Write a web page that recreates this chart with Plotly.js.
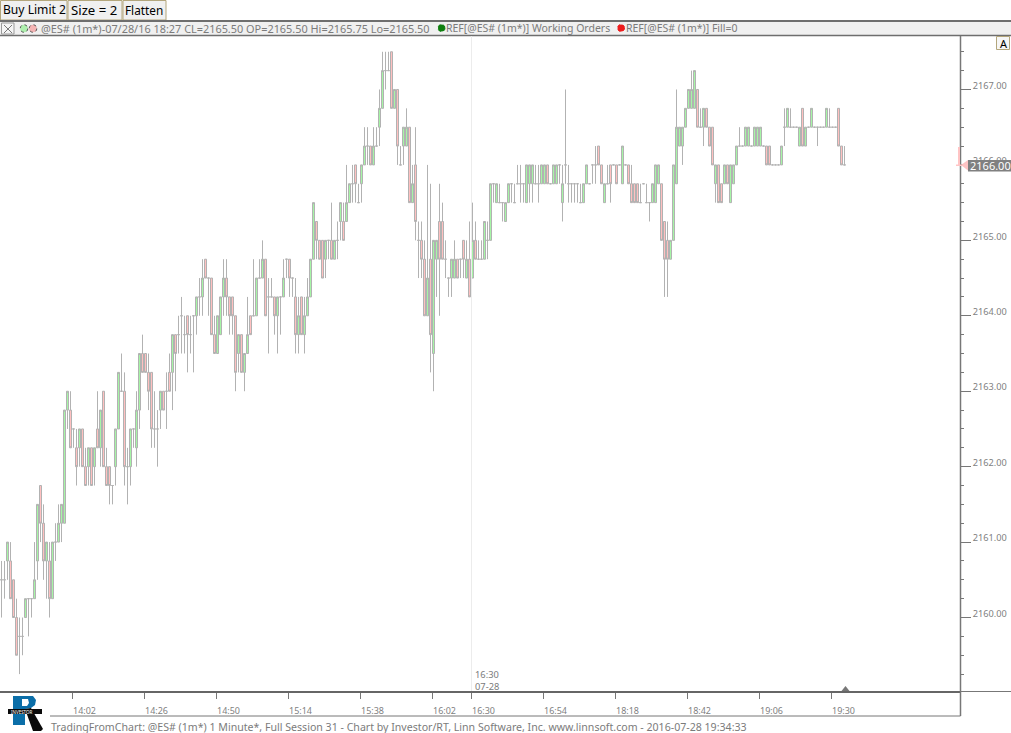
<!DOCTYPE html>
<html><head><meta charset="utf-8">
<script src="https://cdn.plot.ly/plotly-3.0.1.min.js"></script>
<style>html,body{margin:0;padding:0;background:#fff;overflow:hidden}#c{width:1011px;height:733px}</style>
</head><body><div id="c"></div>
<script>
const opens=[2160.5,2160.5,2160.75,2160.75,2160.5,2160,2159.75,2159.75,2160,2160.25,
2160.25,2160.25,2160.75,2161.75,2161.25,2160.75,2160.75,2160.25,2161,2161,
2161.25,2161.25,2162.75,2162.75,2162.5,2162.25,2162.25,2162.5,2162,2162,
2162.25,2162,2162.5,2162.25,2163,2162,2162,2161.75,2162,2162.5,
2163,2163,2162,2162,2162.5,2162.25,2162.75,2163.5,2163.5,2163.25,
2163.25,2162.5,2162.5,2162.75,2163,2163,2163.25,2163.25,2163.75,2163.75,
2164,2163.75,2164,2163.75,2164,2164,2164.25,2164.25,2164.75,2164.5,
2164.5,2163.75,2163.5,2163.75,2164.25,2164.5,2164.25,2164.25,2164,2163.5,
2163.75,2163.25,2163.5,2164,2164,2164,2164.5,2164.5,2164.75,2164.25,
2164.25,2164.25,2164,2164.25,2164.25,2164.75,2164.75,2164.5,2164.25,2163.75,
2164.25,2163.75,2164,2164.25,2164.75,2165.25,2165,2165,2164.75,2165,
2165,2164.75,2165,2165.25,2165.25,2165.25,2165.5,2165.75,2166,2165.5,
2165.75,2166,2166.25,2166.25,2166,2166.25,2166.5,2166.75,2167.25,2167.25,
2167.5,2166.75,2167,2166,2166.25,2166.25,2166.5,2165.5,2166,2165,
2165,2164.75,2164,2164.75,2163.5,2164.75,2165.25,2165.25,2164.75,2164.5,
2164.5,2164.5,2164.75,2164.75,2165,2164.5,2164.75,2164.5,2165,2164.75,
2164.75,2164.75,2165,2165,2165.75,2165.5,2165.5,2165.5,2165.25,2165.5,
2165.75,2165.5,2165.75,2165.75,2165.75,2165.5,2165.75,2165.75,2165.75,2165.75,
2165.75,2165.75,2166,2165.75,2165.75,2165.75,2166,2165.5,2166,2165.75,
2165.75,2165.75,2165.75,2165.5,2165.5,2165.75,2165.75,2166,2166,2166.25,
2166,2165.5,2165.75,2166,2166,2166,2166,2165.75,2166,2166,
2165.75,2165.75,2165.75,2165.5,2165.75,2165.5,2165.5,2165.5,2165.5,2165.75,
2165.75,2165.25,2165,2164.75,2165,2165.75,2166.25,2166.25,2166.5,2166.75,
2166.75,2166.75,2167,2166.5,2166.5,2166.75,2166.5,2166.5,2165.75,2166,
2165.75,2165.75,2166,2165.5,2165.75,2166,2166.25,2166.25,2166.25,2166.25,
2166.25,2166.25,2166.25,2166.25,2166.25,2166.25,2166.25,2166,2166,2166,
2166,2166.5,2166.5,2166.5,2166.5,2166.5,2166.25,2166.75,2166.25,2166.5,
2166.5,2166.5,2166.5,2166.5,2166.5,2166.5,2166.5,2166.5,2166.5,2166.75,2166.25,2166];
const highs=[2160.75,2160.75,2161,2161,2160.5,2160.25,2160,2160,2160.25,2160.25,
2160.25,2161,2161.5,2161.75,2161.5,2161,2161,2161,2161.25,2161.5,
2161.5,2162.75,2163,2163,2162.5,2162.5,2162.5,2162.5,2162.25,2162.25,
2162.25,2162.25,2163,2162.75,2163,2162.25,2162,2161.75,2162.5,2163.25,
2163.5,2163.25,2162.25,2162.5,2162.5,2163,2163.5,2163.75,2163.5,2163.5,
2163.25,2163,2162.75,2163,2163,2163.25,2163.5,2163.75,2163.75,2164,
2164.25,2164,2164,2164,2164,2164.25,2164.5,2164.75,2164.75,2164.5,
2164.5,2164,2164,2164.25,2164.75,2164.75,2164.25,2164.25,2164,2163.75,
2163.75,2163.5,2164.25,2164,2164.75,2164.5,2164.75,2165,2164.75,2164.5,
2164.5,2164.25,2164.25,2164.25,2164.75,2164.75,2164.75,2164.5,2164.5,2164.25,
2164.25,2164.25,2164.5,2164.75,2165.5,2165.25,2165,2165,2165,2165,
2165.5,2165,2165.25,2165.5,2165.5,2166,2165.75,2166,2166,2165.75,
2166,2166.5,2166.5,2166.25,2166.5,2166.5,2167,2167.5,2167.5,2167.5,
2167.5,2167,2167,2166.25,2166.5,2166.75,2166.5,2166,2166.5,2165.25,
2165.25,2165,2166,2165.75,2165,2165,2165.75,2165.5,2165,2164.5,
2164.75,2165,2164.75,2164.75,2165,2165,2165.25,2165.5,2165.25,2165,
2165,2165.25,2165.25,2165.75,2165.75,2165.75,2165.75,2165.5,2165.5,2165.75,
2165.75,2165.75,2166,2166,2165.75,2166,2166,2166,2166,2166,
2166,2166,2166,2165.75,2166,2166,2166,2166,2167,2166,
2165.75,2165.75,2165.75,2165.75,2165.75,2166,2165.75,2166,2166.25,2166.25,
2166,2165.75,2166,2166,2166,2166,2166,2166.25,2166,2166,
2166,2165.75,2165.75,2165.75,2165.75,2165.75,2165.5,2165.75,2166,2166,
2165.75,2165.25,2165.25,2165,2166,2167,2166.5,2166.5,2166.75,2167,
2167.25,2167.25,2167,2166.75,2166.75,2166.75,2166.5,2166.5,2166,2166,
2165.75,2166,2166,2166,2166,2166.25,2166.5,2166.25,2166.5,2166.5,
2166.25,2166.5,2166.5,2166.5,2166.25,2166.25,2166.25,2166,2166,2166,
2166.25,2166.75,2166.75,2166.75,2166.5,2166.5,2166.5,2166.75,2166.5,2166.5,
2166.75,2166.5,2166.5,2166.5,2166.5,2166.75,2166.75,2166.5,2166.5,2166.75,2166.25,2166.25];
const lows=[2160,2160.25,2160.5,2160.25,2160,2159.5,2159.25,2159.5,2160,2159.75,
2160,2160.25,2160.5,2161,2160.5,2160.25,2160,2160.25,2160.75,2161,
2161,2161.25,2162.5,2162.25,2162.25,2161.75,2162,2162,2161.75,2161.75,
2161.75,2161.75,2162.25,2162,2162,2161.75,2161.5,2161.5,2161.75,2162.5,
2163,2161.75,2161.5,2161.75,2162.25,2162,2162.5,2163.25,2163.25,2162.75,
2162.25,2162.25,2162,2162.5,2162.75,2162.5,2163,2162.75,2163,2163.5,
2163.5,2163.5,2163.25,2163.5,2163.25,2163.75,2164,2164,2164.5,2164,
2163.75,2163.5,2163.5,2163.75,2164,2164,2163.75,2163.75,2163,2163.25,
2163.25,2163,2163.5,2163.75,2164,2164,2164.5,2164.5,2164,2163.5,
2164.25,2163.75,2163.5,2163.75,2164.25,2164.5,2164.25,2164.25,2163.5,2163.5,
2163.75,2163.5,2164,2164.25,2164.75,2164.75,2164.75,2164.5,2164.5,2164.75,
2164.75,2164.75,2164.75,2165,2165,2165.25,2165.5,2165.5,2165.5,2165.5,
2165.5,2166,2166,2166,2166,2166.25,2166.25,2166.75,2167,2167.25,
2166.75,2166.75,2166,2166,2166,2166.25,2165.5,2165.5,2165,2164.5,
2164.5,2164,2164,2163.25,2163,2164.25,2164,2164.75,2164.5,2164.25,
2164.25,2164.5,2164.5,2164.5,2164.5,2164.5,2164.25,2164.5,2164.75,2164.75,
2164.75,2164.75,2164.75,2165,2165.5,2165.5,2165.5,2165.25,2165.25,2165.5,
2165.5,2165.5,2165.75,2165.5,2165.5,2165.5,2165.5,2165.5,2165.75,2165.5,
2165.75,2165.75,2165.75,2165.75,2165.75,2165.75,2165.75,2165.25,2165.75,2165.5,
2165.5,2165.5,2165.5,2165.5,2165.5,2165.75,2165.75,2165.75,2165.75,2166,
2165.75,2165.5,2165.75,2165.5,2166,2165.75,2166,2165.75,2166,2165.75,
2165.5,2165.5,2165.5,2165.5,2165.75,2165.5,2165.25,2165.5,2165.5,2165.75,
2165,2164.25,2164.25,2164.75,2165,2165.75,2166.25,2166,2166.5,2166.75,
2166.75,2166.75,2166.5,2166.5,2166.25,2166.5,2166.25,2166,2165.5,2165.5,
2165.5,2165.75,2165.75,2165.5,2165.75,2166,2166.25,2166.25,2166.25,2166.25,
2166.25,2166.25,2166.25,2166.25,2166.25,2166,2166,2166,2166,2166,
2166,2166.25,2166.5,2166.5,2166.5,2166.5,2166.25,2166.25,2166.25,2166.5,
2166.5,2166.5,2166.25,2166.5,2166.5,2166.5,2166.5,2166.5,2166.5,2166.25,2166,2166];
const closes=[2160.5,2160.5,2161,2160.25,2160,2159.5,2159.75,2159.75,2160.25,2160.25,
2160.25,2160.5,2161.5,2161.25,2160.75,2161,2160.25,2161,2161,2161.25,
2161.5,2162.75,2163,2162.25,2162.5,2162,2162.5,2162,2161.75,2162.25,
2161.75,2162.25,2162.25,2162.75,2162,2161.75,2161.75,2161.75,2162.5,2163.25,
2163,2162,2162,2162.5,2162.5,2162.75,2163.5,2163.25,2163.25,2163,
2162.5,2162.5,2162.5,2163,2162.75,2163,2163,2163.75,2163.5,2163.75,
2164,2163.75,2163.75,2163.75,2164,2164.25,2164.25,2164.5,2164.5,2164.5,
2163.75,2163.5,2164,2164.25,2164.5,2164.25,2164,2164,2163.25,2163.75,
2163.25,2163.5,2163.75,2163.75,2164,2164.5,2164.5,2164.75,2164,2164.25,
2164.25,2164,2164.25,2164.25,2164.5,2164.75,2164.5,2164.5,2163.75,2164,
2163.75,2164,2164.25,2164.75,2165.5,2165,2164.75,2164.5,2165,2165,
2164.75,2165,2165,2165.5,2165,2165.5,2165.75,2165.75,2165.75,2165.5,
2166,2166.25,2166.25,2166,2166.25,2166.25,2166.75,2167.25,2167.25,2167.25,
2166.75,2167,2166.25,2166,2166.5,2166.5,2165.5,2165.75,2165.25,2165,
2164.75,2164,2164.5,2163.75,2165,2165,2164.75,2164.75,2164.75,2164.5,
2164.75,2164.75,2164.5,2164.75,2164.75,2164.75,2164.25,2165,2164.75,2164.75,
2164.75,2165.25,2165,2165.75,2165.75,2165.75,2165.5,2165.5,2165.5,2165.75,
2165.75,2165.5,2165.75,2165.75,2165.75,2166,2166,2166,2165.75,2165.75,
2166,2166,2165.75,2165.75,2166,2166,2166,2165.75,2166,2165.75,
2165.75,2165.75,2165.75,2165.5,2165.75,2166,2165.75,2166,2166,2166,
2165.75,2165.75,2165.75,2165.75,2166,2165.75,2166,2166.25,2166,2165.75,
2165.5,2165.5,2165.5,2165.5,2165.75,2165.5,2165.5,2165.75,2166,2166,
2165,2164.75,2164.75,2165,2166,2166.5,2166.5,2166.5,2166.75,2167,
2167,2167.25,2166.5,2166.5,2166.75,2166.5,2166.25,2166,2166,2165.5,
2165.5,2166,2165.75,2166,2166,2166.25,2166.25,2166.25,2166.5,2166.5,
2166.25,2166.5,2166.5,2166.5,2166.25,2166,2166,2166,2166,2166,
2166.25,2166.5,2166.75,2166.5,2166.5,2166.5,2166.5,2166.25,2166.5,2166.5,
2166.75,2166.5,2166.5,2166.5,2166.5,2166.75,2166.5,2166.5,2166.5,2166.25,2166,2166];
const tickPositions=[23.67,47.67,71.67,95.67,119.67,143.67,156.67,180.67,204.67,228.67,252.67,276.67];
const tickLabels=['14:02','14:26','14:50','15:14','15:38','16:02','16:30','16:54','18:18','18:42','19:06','19:30'];
const priceTicks=[2160,2161,2162,2163,2164,2165,2166,2167];
const priceLabels=['2160.00','2161.00','2162.00','2163.00','2164.00','2165.00','2166.00','2167.00'];
const priceMinorTicks=[2159.25,2159.5,2159.75,2160.25,2160.5,2160.75,2161.25,2161.5,2161.75,2162.25,2162.5,2162.75,2163.25,2163.5,2163.75,2164.25,2164.5,2164.75,2165.25,2165.5,2165.75,2166.25,2166.5,2166.75,2167.25,2167.5];
const lastPrice='2166.00';
const sessionLabel=['16:30','07-28'];

const W=960,T=36,H=655;
const PX=x=>x/W, PY=y=>1-(y-T)/H;
const rect=(x0,y0,x1,y1,fill,line,lw)=>({type:'rect',xref:'paper',yref:'paper',x0:PX(x0),y0:PY(y0),x1:PX(x1),y1:PY(y1),fillcolor:fill||'rgba(0,0,0,0)',line:{color:line||'rgba(0,0,0,0)',width:lw===undefined?(line?1:0):lw},layer:'above'});
const seg=(x0,y0,x1,y1,c,w)=>({type:'line',xref:'paper',yref:'paper',x0:PX(x0),y0:PY(y0),x1:PX(x1),y1:PY(y1),line:{color:c,width:w||1},layer:'above'});
const poly=(pts,fill)=>({type:'path',xref:'paper',yref:'paper',path:'M'+pts.map(p=>PX(p[0])+','+PY(p[1])).join('L')+'Z',fillcolor:fill,line:{width:0},layer:'above'});
const circ=(cx,cy,r,fill,line)=>({type:'circle',xref:'paper',yref:'paper',x0:PX(cx-r),x1:PX(cx+r),y0:PY(cy-r),y1:PY(cy+r),fillcolor:fill,line:{color:line,width:1,dash:'dot'},layer:'above'});
const FONT='"Noto Sans","Open Sans",sans-serif';
const txt=(x,y,s,size,color,extra)=>Object.assign({xref:'paper',yref:'paper',x:PX(x),y:PY(y),text:s,showarrow:false,xanchor:'left',yanchor:'middle',borderpad:0,font:{family:FONT,size:size,color:color}},extra||{});

const GR='#7f7f7f',TAN='#b3a67c';
const shapes=[
 rect(0.5,0.5,67,20,'#f0f0f0',TAN),rect(68,0.5,122,20,'#f0f0f0',TAN),rect(123,0.5,166,20,'#f0f0f0',TAN),
 rect(0,21,1011,35.5,'#f0f0f0'),seg(0,21,1011,21,'#6e6e6e',2),seg(0,35.5,1011,35.5,'#6e6e6e',1.5),
 rect(1.5,23,14,34,'#f4f4f4','#9a9a9a'),seg(4,25,12,33,'#777',1),seg(12,25,4,33,'#777',1),
 circ(24,28.5,3.8,'#aef0ae','#555'),circ(33,28.5,3.8,'#f5b5b5','#555'),
 circ(441.5,28,3.5,'#0f7f0f','#0f7f0f'),circ(621,28,3.5,'#ee1c1c','#ee1c1c'),
 seg(471.5,36,471.5,691,'#ececec',1),
 seg(960.5,36,960.5,716,'#777',1.5),seg(50,716,960.5,716,'#777',1),seg(960,691.5,1011,691.5,'#777',1),
 rect(958,147,960,166,'#ffc4c4'),rect(956,164.5,962,166,'#ffc4c4'),
 poly([[961,165],[968,160],[968,170.5]],'#ffc4c4'),
 rect(968,160,1011,171.5,'#808080'),
 rect(996.5,36.5,1009.5,49.5,'#f6f6f6',TAN),
 poly([[841.5,691],[845.5,686],[849.5,691]],'#777'),
 poly([[13,696],[33,696],[36,700],[35,705],[31,708],[25,709],[25,725],[13,725]],'#0b6ea8'),
 poly([[22,699],[28,699],[29,703],[27,706],[22,706]],'#ffffff'),
 poly([[25,709],[31,708],[43,729],[41,731],[33,731]],'#0a0a0a'),
 rect(8,709,42,714,'#0a0a0a')
];
const annotations=[
 txt(1.5,10,'Buy Limit 2',12.1,'#000'),txt(69.5,10,'Size = 2',13.2,'#000'),txt(123.5,10,'Flatten',11.8,'#000'),
 txt(40,28.5,'@ES# (1m*)-07/28/16 18:27 CL=2165.50 OP=2165.50 Hi=2165.75 Lo=2165.50',10.9,'#7b7b7b'),
 txt(445,28.5,'REF[@ES# (1m*)] Working Orders',10.5,'#7b7b7b'),
 txt(625,28.5,'REF[@ES# (1m*)] Fill=0',10.5,'#7b7b7b'),
 txt(473.5,674.5,sessionLabel[0],9.3,'#7b7b7b'),txt(473.5,686,sessionLabel[1],9.3,'#7b7b7b'),
 txt(969,165.5,lastPrice,11,'#ffffff'),
 txt(999,43,'A',11,'#000'),
 txt(10,711.5,'INVESTOR',4.5,'#ffffff'),
 txt(50,726.5,'TradingFromChart: @ES# (1m*) 1 Minute*, Full Session 31 - Chart by Investor/RT, Linn Software, Inc. www.linnsoft.com - 2016-07-28 19:34:33',10.6,'#7b7b7b')
];
const trace={type:'candlestick',x:opens.map((_,i)=>i),open:opens,high:highs,low:lows,close:closes,
 increasing:{line:{color:'#b2b2b2',width:1},fillcolor:'#a6f5a6'},
 decreasing:{line:{color:'#b2b2b2',width:1},fillcolor:'#ffc0c0'},
 whiskerwidth:0,hoverinfo:'skip',showlegend:false};
const layout={width:1011,height:733,margin:{l:0,r:51,t:36,b:42,pad:0},paper_bgcolor:'#fff',plot_bgcolor:'#fff',showlegend:false,boxgap:0.3333,boxgroupgap:0,
 xaxis:{type:'linear',range:[-0.5,319.5],rangeslider:{visible:false},tickmode:'array',tickvals:tickPositions,ticktext:tickLabels,
  ticks:'outside',ticklen:6,tickwidth:1,tickcolor:'#777',showgrid:false,zeroline:false,showline:true,linecolor:'#666',linewidth:2,
  tickfont:{family:FONT,size:9,color:GR},ticklabelshift:12,ticklabelstandoff:4,tickangle:0,fixedrange:true},
 yaxis:{side:'right',range:[2159.026,2167.709],tickmode:'array',tickvals:priceTicks,ticktext:priceLabels,
  ticks:'outside',ticklen:10,tickwidth:1,tickcolor:'#777',showgrid:false,zeroline:false,showline:false,
  minor:{tickmode:'array',tickvals:priceMinorTicks,ticks:'outside',ticklen:3,tickwidth:1,tickcolor:'#777',showgrid:false},
  tickfont:{family:FONT,size:9.2,color:GR},ticklabelshift:-4,fixedrange:true},
 shapes:shapes,annotations:annotations};
Plotly.newPlot('c',[trace],layout,{displayModeBar:false,staticPlot:true});
</script></body></html>
